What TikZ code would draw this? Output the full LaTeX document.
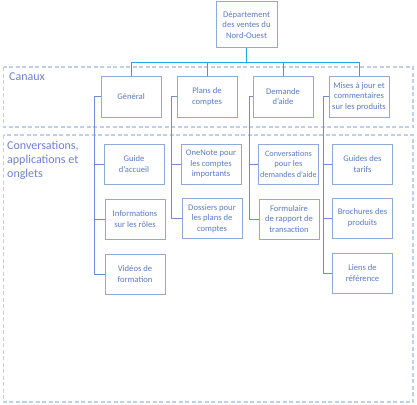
\documentclass[tikz,border=0pt]{standalone}
\usepackage{fontspec}
\setmainfont{Carlito}
\definecolor{boxline}{HTML}{8EAADB}
\definecolor{boxtext}{HTML}{5B7BC9}
\definecolor{linkblue}{HTML}{6A8FD6}
\definecolor{topcyan}{HTML}{1FA8E4}
\definecolor{dashblue}{HTML}{BCD0EC}
\definecolor{lbl}{HTML}{6E80D8}
\begin{document}
\begin{tikzpicture}[x=1pt,y=-1pt,
  box/.style={draw=boxline,line width=1pt,fill=white,align=center,text=boxtext,
    minimum width=60pt,minimum height=40pt,inner sep=1pt,
    font=\fontsize{8.6}{10.6}\selectfont},
  link/.style={draw=linkblue,line width=0.9pt},
  toplink/.style={draw=topcyan,line width=1pt},
  region/.style={draw=dashblue,line width=1.4pt,dash pattern=on 4pt off 2.5pt},
  grouplbl/.style={text=lbl,anchor=north west,align=left,inner sep=0pt,
    font=\fontsize{12}{14}\selectfont}]
\useasboundingbox (0,0) rectangle (417,404);
% regions
\draw[region] (3.5,67) rectangle (413,127);
\draw[region] (3.5,135) rectangle (413,402);
\node[grouplbl] (lcan) at (9,73) {Canaux};
\node[grouplbl] (lconv) at (7,141) {Conversations,\\applications et\\onglets};
% root
\node[box,minimum width=61pt,minimum height=46pt] (root) at (246.5,25) {Département\\des ventes du\\Nord-Ouest};
% channels
\node[box,minimum height=41pt] (gen) at (131,96.5) {Général};
\node[box,minimum height=41pt] (plans) at (207,96.5) {Plans de\\comptes};
\node[box,minimum height=41pt] (dem) at (283,96.5) {Demande\\d’aide};
\node[box,minimum height=41pt] (mis) at (359,96.5) {Mises à jour et\\commentaires\\sur les produits};
% children
\node[box] (guide) at (134,164) {Guide\\d’accueil};
\node[box] (info) at (135,219) {Informations\\sur les rôles};
\node[box] (vid) at (135,274) {Vidéos de\\formation};
\node[box] (onenote) at (211,164) {OneNote pour\\les comptes\\importants};
\node[box] (doss) at (212,218.5) {Dossiers pour\\les plans de\\comptes};
\node[box] (conv) at (288.5,164) {{\fontsize{8.2}{10.6}\selectfont Conversations}\\pour les\\{\fontsize{8.2}{10.6}\selectfont demandes d’aide}};
\node[box] (form) at (289,219) {Formulaire\\de rapport de\\transaction};
\node[box] (tarifs) at (362.5,164) {Guides des\\tarifs};
\node[box] (broch) at (362.5,218) {Brochures des\\produits};
\node[box] (liens) at (362.5,273) {Liens de\\référence};
% top connectors
\coordinate (bus) at (246.5,62);
\draw[toplink] (root.south) -- (bus);
\draw[toplink] (bus) -| (gen.north);
\draw[toplink] (bus) -| (plans.north);
\draw[toplink] (bus) -| (dem.north);
\draw[toplink] (bus) -| (mis.north);
% child connectors
\coordinate (ga) at (94,0);
\coordinate (pa) at (171,0);
\coordinate (da) at (249.5,0);
\coordinate (ma) at (323,0);
\draw[link] (gen.west) -- (gen.west -| ga) |- (vid.west);
\draw[link] (guide.west -| ga) -- (guide.west);
\draw[link] (info.west -| ga) -- (info.west);
\draw[link] (plans.west) -- (plans.west -| pa) |- (doss.west);
\draw[link] (onenote.west -| pa) -- (onenote.west);
\draw[link] (dem.west) -- (dem.west -| da) |- (form.west);
\draw[link] (conv.west -| da) -- (conv.west);
\draw[link] (mis.west) -- (mis.west -| ma) |- (liens.west);
\draw[link] (tarifs.west -| ma) -- (tarifs.west);
\draw[link] (broch.west -| ma) -- (broch.west);
\end{tikzpicture}
\end{document}
